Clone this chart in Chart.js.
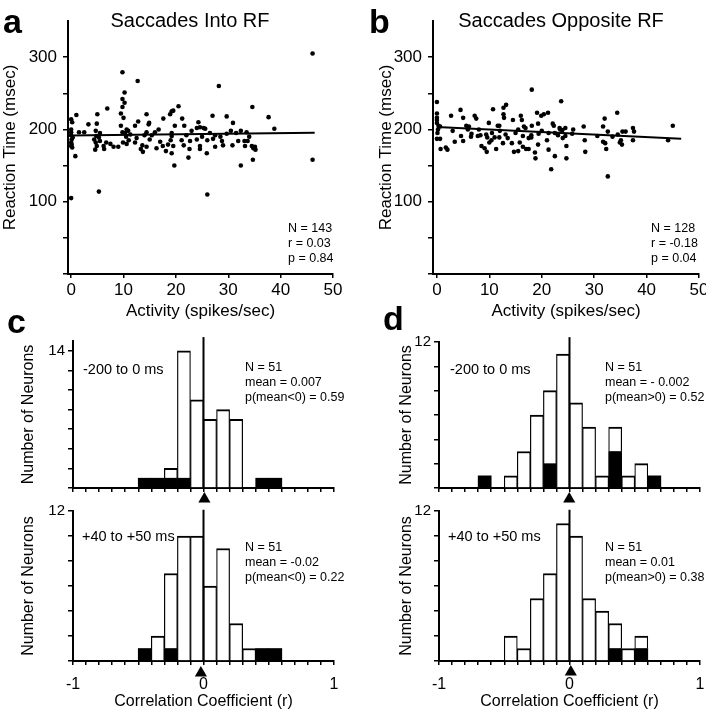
<!DOCTYPE html>
<html>
<head>
<meta charset="utf-8">
<script src="https://cdn.jsdelivr.net/npm/chart.js@4.4.1/dist/chart.umd.min.js"></script>
<style>
  body { margin: 0; background: #fff; width: 706px; height: 711px; position: relative; overflow: hidden; }
  canvas { position: absolute; }
</style>
</head>
<body>
<canvas id="pa"  width="353" height="322" style="left:0;top:0"></canvas>
<canvas id="pb"  width="353" height="322" style="left:353px;top:0"></canvas>
<canvas id="pc1" width="353" height="205" style="left:0;top:300px"></canvas>
<canvas id="pd1" width="353" height="205" style="left:353px;top:300px"></canvas>
<canvas id="pc2" width="353" height="211" style="left:0;top:500px"></canvas>
<canvas id="pd2" width="353" height="211" style="left:353px;top:500px"></canvas>
<script>
// ---- data: scatter (activity, reaction time) ----
const intoActivity = [0,1.0,0,0,0,0.1,0,0,0.8,1.5,2.5,3.3,4.9,5.0,4.7,4.4,4.7,4.9,4.6,5.3,5.5,6.2,6.7,6.9,6.3,8.1,9.0,9.5,9.5,9.8,
  10.2,9.8,10.2,9.8,10.0,9.8,10.3,10.6,10.9,9.9,10.6,11.3,12.2,12.2,12.7,12.8,13.3,13.7,14.4,14.4,14.9,14.8,14.0,14.4,15.4,16.3,16.7,17.0,17.6,17.5,
  18.1,18.9,19.2,19.5,20.5,19.2,19.2,19.5,19.2,19.7,19.8,21.2,21.6,21.1,22.7,22.6,22.4,24.0,24.3,24.0,24.6,25.3,25.6,24.6,24.6,25.9,26.0,26.5,27.1,27.5,
  27.0,28.2,28.8,29.7,29.7,30.5,30.9,30.8,31.9,32.4,32.4,33.1,33.2,33.5,33.7,34.6,34.5,34.8,35.1,34.7,37.7,38.8,46.1,46.1,0,5.3,
  0.2,0.3,0.1,0.2,5.5,4.8,10.5,11.0,13.6,15.0,19.0,18.5,22.0,25.0,26.0,29.0,28.5,31.5,34.0,35.2,12.5,7.5,16.0,21.5,27.5,23.0];
const intoRT = [214,220,200,196,192,186,182,177,163,196,196,207,208,221,198,186,182,177,172,189,184,177,182,229,173,176,176,222,205,279,
  251,242,237,231,216,196,195,200,198,182,180,193,182,205,267,211,173,169,221,196,209,207,192,176,192,174,200,183,215,177,
  170,221,225,226,232,195,191,177,167,150,205,215,205,185,184,173,161,186,210,202,203,202,201,177,173,167,110,195,187,176,
  219,260,184,218,194,198,209,178,184,150,198,184,177,196,184,231,177,174,176,158,217,201,305,158,105,114,
  210,189,179,175,195,191,190,185,178,186,185,179,192,190,185,178,190,195,190,172,188,180,196,178,192,198];

const oppActivity = [0,0,0,0,0,0.3,0.6,0,0.6,0.7,1.7,2.0,2.7,3.4,4.5,5.0,4.6,5.0,5.6,5.9,6.1,6.6,7.2,7.5,7.8,8.3,8.5,9.1,9.5,9.4,
  9.6,9.9,10.0,10.4,10.7,11.0,11.3,11.6,11.9,11.9,12.6,12.7,12.7,12.8,13.2,13.1,14.3,14.5,14.7,15.0,15.5,15.8,16.0,16.2,16.4,16.4,16.6,16.9,17.0,17.5,
  18.0,18.1,18.1,18.0,18.7,18.8,19.1,19.3,19.3,19.4,19.9,20.4,21.2,21.3,21.3,21.8,22.1,22.3,22.5,23.1,23.4,23.7,23.5,23.9,24.5,24.5,24.7,24.7,25.8,28.0,
  28.2,28.3,30.6,31.7,31.7,32.0,32.1,32.3,32.6,32.6,34.4,34.5,34.9,35.1,35.3,36.0,35.4,37.4,37.6,37.4,45.0,44.1,
  0.2,0.1,3.0,6.5,8.0,10.5,12.0,13.5,15.5,17.5,20.0,21.0,22.5,24.0,26.0,33.5];
const oppRT = [238,222,216,213,209,205,204,187,187,173,175,172,219,183,227,216,191,184,205,200,204,194,219,215,191,192,177,174,169,193,
  189,209,182,185,228,189,173,205,205,189,181,230,221,216,234,193,181,213,169,195,170,182,219,213,191,176,204,202,173,173,
  192,255,205,189,168,160,223,208,179,194,219,221,223,195,172,145,208,205,163,192,202,239,200,199,202,191,177,160,194,204,
  185,169,191,204,183,215,181,173,197,135,223,193,182,185,179,197,197,202,197,185,205,185,
  200,195,198,190,200,195,198,188,200,188,198,185,195,188,200,190];

// regression lines (end points)
const intoFitX = [-0.4, 46.5];
const intoFitY = [191.5, 195.4];
const oppFitX  = [0, 46.6];
const oppFitY  = [203.5, 187.2];

// ---- data: histograms of correlation coefficient ----
const binCenters = [-0.95,-0.85,-0.75,-0.65,-0.55,-0.45,-0.35,-0.25,-0.15,-0.05,0.05,0.15,0.25,0.35,0.45,0.55,0.65,0.75,0.85,0.95];
const intoEarlyTotal  = [0,0,0,0,0,1,1,2,14,9,7,8,7,0,1,1,0,0,0,0];
const intoEarlySig    = [0,0,0,0,0,1,1,1,1,0,0,0,0,0,1,1,0,0,0,0];
const intoLateTotal   = [0,0,0,0,0,1,2,7,10,10,6,9,3,1,1,1,0,0,0,0];
const intoLateSig     = [0,0,0,0,0,1,0,1,0,0,0,0,0,0,1,1,0,0,0,0];
const oppEarlyTotal   = [0,0,0,1,0,1,3,6,8,11,7,5,1,5,1,2,1,0,0,0];
const oppEarlySig     = [0,0,0,1,0,0,0,0,2,0,0,0,0,3,0,0,1,0,0,0];
const oppLateTotal    = [0,0,0,0,0,2,1,5,7,11,10,5,4,3,1,2,0,0,0,0];
const oppLateSig      = [0,0,0,0,0,0,0,0,0,0,0,0,0,1,0,1,0,0,0,0];
const histMeans = { intoEarly: 0.007, intoLate: -0.02, oppEarly: -0.002, oppLate: 0.01 };

// ---- tick values / labels ----
const activityTicks = [0,10,20,30,40,50];
const rtTicks  = [0,50,100,150,200,250,300];
const rtLabels = [100,200,300];
const rTicks   = [-1,-0.9,-0.8,-0.7,-0.6,-0.5,-0.4,-0.3,-0.2,-0.1,0,0.1,0.2,0.3,0.4,0.5,0.6,0.7,0.8,0.9,1];
const rLabels  = [-1,0,1];
const countTicks14 = [0,2,4,6,8,10,12,14];
const countTicks12 = [0,2,4,6,8,10,12];

const FONT = "'Liberation Sans', Arial, Helvetica, sans-serif";
Chart.defaults.font.family = FONT;
Chart.defaults.color = '#000';

// plain text drawn on top (panel letters, titles, stats)
const notes = {
  id: 'notes',
  afterDraw(chart, args, opts) {
    const ctx = chart.ctx;
    (opts.items || []).forEach(t => {
      ctx.save();
      ctx.font = t.font || ('12.5px ' + FONT);
      ctx.fillStyle = '#000';
      ctx.textAlign = t.align || 'left';
      ctx.textBaseline = t.base || 'middle';
      ctx.fillText(t.text, t.x - opts.ox, t.y - opts.oy);
      ctx.restore();
    });
  }
};

// mean marker: triangle under the x axis, placed through the chart's scales
const meanMark = {
  id: 'meanMark',
  afterDraw(chart, args, opts) {
    if (opts.mean === undefined) return;
    const ctx = chart.ctx;
    const x = chart.scales.x.getPixelForValue(opts.mean);
    const y = chart.scales.y.getPixelForValue(opts.markY);
    ctx.save();
    ctx.fillStyle = '#000';
    Chart.helpers.drawPoint(ctx, { pointStyle: 'triangle', radius: 7, rotation: 0, borderWidth: 0 }, x, y);
    ctx.restore();
  }
};

function axisStyle(len) {
  return {
    grid: { display: true, drawOnChartArea: false, drawTicks: true, tickLength: len, color: '#000', lineWidth: 1.5, offset: false },
    border: { display: true, color: '#000', width: 2 }
  };
}
const fixedTicks = list => s => { s.ticks = list.map(v => ({ value: v })); };
const labelsOnly = list => v => list.some(l => Math.abs(l - v) < 1e-9) ? String(Math.round(v)) : '';

const LETTER = 'bold 34px ' + FONT;
const TITLE = '20px ' + FONT;
const SMALL = '12.5px ' + FONT;
const RANGE = '14.5px ' + FONT;

function scatterPanel(id, ox, xs, ys, fitX, fitY, cfg) {
  new Chart(document.getElementById(id), {
    type: 'scatter',
    data: {
      datasets: [
        { type: 'line', data: fitX.map((x, i) => ({ x, y: fitY[i] })), borderColor: '#000', borderWidth: 2, pointRadius: 0, order: -1 },
        { data: xs.map((x, i) => ({ x, y: ys[i] })), backgroundColor: '#000', borderWidth: 0, pointRadius: 2.3 }
      ]
    },
    options: {
      responsive: false, animation: false, devicePixelRatio: 1,
      layout: { padding: { top: 21, right: cfg.right, left: 0, bottom: 0 } },
      plugins: { legend: { display: false }, tooltip: { enabled: false }, notes: { ox, oy: 0, items: cfg.notes } },
      scales: {
        x: {
          type: 'linear', min: cfg.xmin, max: 50, ...axisStyle(4),
          afterBuildTicks: fixedTicks(activityTicks),
          afterFit: s => { s.height = 48; s.paddingLeft = 0; s.paddingRight = 0; },
          ticks: { font: { size: 17 }, padding: 2, maxRotation: 0, autoSkip: false },
          title: { display: true, text: 'Activity (spikes/sec)', font: { size: 17 }, padding: 0 }
        },
        y: {
          type: 'linear', min: 0, max: 350, ...axisStyle(5),
          afterBuildTicks: fixedTicks(rtTicks),
          afterFit: s => { s.width = cfg.yWidth; s.paddingTop = 0; s.paddingBottom = 0; },
          ticks: { font: { size: 17 }, padding: 6, callback: labelsOnly(rtLabels) },
          title: { display: true, text: 'Reaction Time (msec)', font: { size: 17 }, padding: { top: cfg.titlePad, bottom: 0 } }
        }
      }
    },
    plugins: [notes]
  });
}

function histPanel(id, ox, oy, total, sig, mean, cfg) {
  const filled = [], open = [];
  binCenters.forEach((c, i) => {
    if (sig[i]) filled.push({ x: c, y: sig[i] });
    if (total[i] - sig[i]) open.push({ x: c, y: total[i] - sig[i] });
  });
  new Chart(document.getElementById(id), {
    type: 'bar',
    data: {
      datasets: [
        { type: 'line', data: [{ x: 0, y: 0 }, { x: 0, y: cfg.lineTop }], borderColor: '#000', borderWidth: 2,
          pointRadius: 0, clip: false, order: -2, stack: 'zero' },
        { data: filled, backgroundColor: '#000', borderWidth: 0, barPercentage: 1, categoryPercentage: 1 },
        { data: open, backgroundColor: '#fff', borderColor: '#000', borderWidth: { top: 2, left: 1.2, right: 1.2, bottom: 0 },
          barPercentage: 1, categoryPercentage: 1 }
      ]
    },
    options: {
      responsive: false, animation: false, devicePixelRatio: 1,
      layout: { padding: { top: cfg.padTop, right: cfg.right, left: 0, bottom: 0 } },
      plugins: {
        legend: { display: false }, tooltip: { enabled: false },
        notes: { ox, oy, items: cfg.notes },
        meanMark: { mean, markY: cfg.markY }
      },
      scales: {
        x: {
          type: 'linear', min: -1, max: 1, stacked: true, offset: false, ...axisStyle(4),
          afterBuildTicks: fixedTicks(rTicks),
          afterFit: s => { s.height = cfg.xHeight; s.paddingLeft = 0; s.paddingRight = 0; },
          ticks: { font: { size: 16 }, padding: 10, maxRotation: 0, autoSkip: false,
                   callback: cfg.showX ? labelsOnly(rLabels) : () => '' },
          title: { display: cfg.showX, text: 'Correlation Coefficient (r)', font: { size: 16 }, padding: 0 }
        },
        y: {
          type: 'linear', min: 0, max: cfg.ymax, stacked: true, ...axisStyle(5),
          afterBuildTicks: fixedTicks(cfg.yTicks),
          afterFit: s => { s.width = cfg.yWidth; s.paddingTop = 0; s.paddingBottom = 0; },
          ticks: { font: { size: 15 }, padding: 3, callback: labelsOnly([cfg.yTicks[cfg.yTicks.length - 1]]) },
          title: { display: true, text: 'Number of Neurons', font: { size: 16 }, padding: { top: cfg.titlePad, bottom: 0 } }
        }
      }
    },
    plugins: [notes, meanMark]
  });
}

scatterPanel('pa', 0, intoActivity, intoRT, intoFitX, intoFitY, {
  xmin: -0.6, yWidth: 68, right: 20, titlePad: 0,
  notes: [
    { text: 'a', x: 3, y: 33, font: LETTER, base: 'alphabetic' },
    { text: 'Saccades Into RF', x: 190, y: 21, font: TITLE, align: 'center' },
    { text: 'N = 143', x: 288, y: 229, font: SMALL },
    { text: 'r = 0.03', x: 288, y: 244, font: SMALL },
    { text: 'p = 0.84', x: 288, y: 259, font: SMALL }
  ]
});

scatterPanel('pb', 353, oppActivity, oppRT, oppFitX, oppFitY, {
  xmin: -0.75, yWidth: 80, right: 7, titlePad: 23,
  notes: [
    { text: 'b', x: 369, y: 33, font: LETTER, base: 'alphabetic' },
    { text: 'Saccades Opposite RF', x: 561, y: 21, font: TITLE, align: 'center' },
    { text: 'N = 128', x: 651, y: 229, font: SMALL },
    { text: 'r = -0.18', x: 651, y: 244, font: SMALL },
    { text: 'p = 0.04', x: 651, y: 259, font: SMALL }
  ]
});

histPanel('pc1', 0, 300, intoEarlyTotal, intoEarlySig, histMeans.intoEarly, {
  padTop: 41, right: 19, xHeight: 17, yWidth: 73, titlePad: 19, ymax: 15, yTicks: countTicks14,
  showX: false, lineTop: 15.4, markY: -1.12,
  notes: [
    { text: 'c', x: 7, y: 333, font: LETTER, base: 'alphabetic' },
    { text: '-200 to 0 ms', x: 83, y: 370, font: RANGE },
    { text: 'N = 51', x: 245, y: 367.5, font: SMALL },
    { text: 'mean = 0.007', x: 245, y: 382.5, font: SMALL },
    { text: 'p(mean<0) = 0.59', x: 245, y: 398, font: SMALL }
  ]
});

histPanel('pd1', 353, 300, oppEarlyTotal, oppEarlySig, histMeans.oppEarly, {
  padTop: 42, right: 6, xHeight: 17, yWidth: 86, titlePad: 44, ymax: 12, yTicks: countTicks12,
  showX: false, lineTop: 12.4, markY: -0.9,
  notes: [
    { text: 'd', x: 383, y: 330, font: LETTER, base: 'alphabetic' },
    { text: '-200 to 0 ms', x: 450, y: 370, font: RANGE },
    { text: 'N = 51', x: 605, y: 367.5, font: SMALL },
    { text: 'mean = - 0.002', x: 605, y: 382.5, font: SMALL },
    { text: 'p(mean>0) = 0.52', x: 605, y: 398, font: SMALL }
  ]
});

histPanel('pc2', 0, 500, intoLateTotal, intoLateSig, histMeans.intoLate, {
  padTop: 11, right: 19, xHeight: 50, yWidth: 73, titlePad: 19, ymax: 12, yTicks: countTicks12,
  showX: true, lineTop: 12.1, markY: -0.96,
  notes: [
    { text: '+40 to +50 ms', x: 82, y: 537, font: RANGE },
    { text: 'N = 51', x: 245, y: 547.5, font: SMALL },
    { text: 'mean = -0.02', x: 245, y: 562.5, font: SMALL },
    { text: 'p(mean<0) = 0.22', x: 245, y: 577.5, font: SMALL }
  ]
});

histPanel('pd2', 353, 500, oppLateTotal, oppLateSig, histMeans.oppLate, {
  padTop: 11, right: 6, xHeight: 50, yWidth: 86, titlePad: 44, ymax: 12, yTicks: countTicks12,
  showX: true, lineTop: 12.1, markY: -0.88,
  notes: [
    { text: '+40 to +50 ms', x: 448, y: 537, font: RANGE },
    { text: 'N = 51', x: 605, y: 547.5, font: SMALL },
    { text: 'mean = 0.01', x: 605, y: 562.5, font: SMALL },
    { text: 'p(mean>0) = 0.38', x: 605, y: 577.5, font: SMALL }
  ]
});
</script>
</body>
</html>
